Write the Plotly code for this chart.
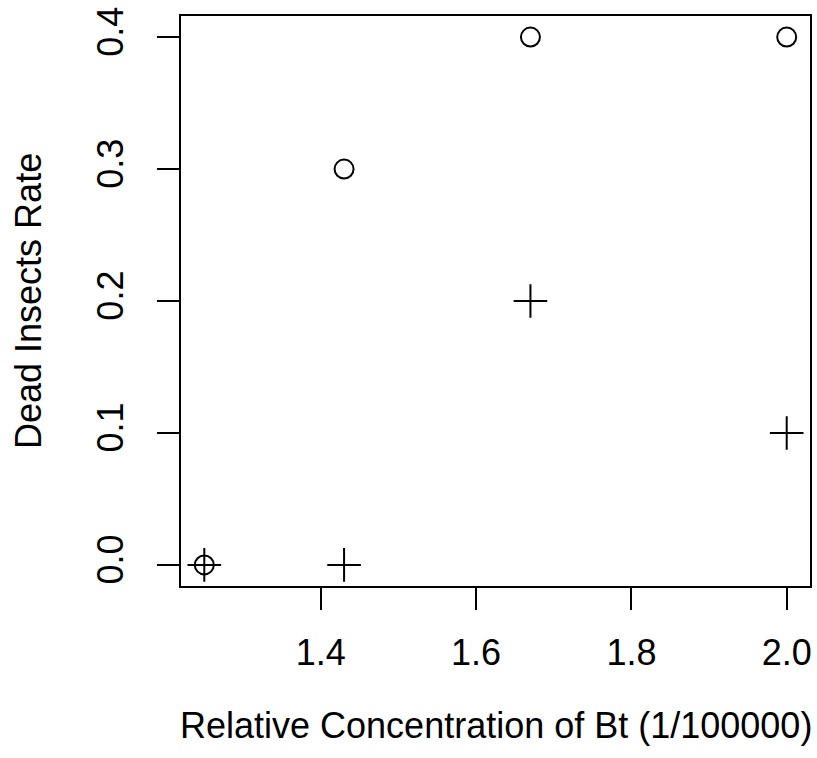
import plotly.graph_objects as go

concentration = [1.25, 1.43, 1.67, 2.0]
rate_circle = [0.0, 0.3, 0.4, 0.4]
rate_cross = [0.0, 0.0, 0.2, 0.1]
x_ticks = [1.4, 1.6, 1.8, 2.0]
y_ticks = [0.0, 0.1, 0.2, 0.3, 0.4]

FONT = "Liberation Sans, Arial, sans-serif"

fig = go.Figure()
fig.add_trace(go.Scatter(x=concentration, y=rate_circle, mode="markers",
                         marker=dict(symbol="circle-open", size=19, color="black",
                                     line=dict(width=2, color="black")),
                         showlegend=False, hoverinfo="skip"))
fig.add_trace(go.Scatter(x=concentration, y=rate_cross, mode="markers",
                         marker=dict(symbol="cross-thin-open", size=24, color="black",
                                     line=dict(width=2, color="black")),
                         showlegend=False, hoverinfo="skip"))

fig.update_layout(
    width=817, height=758,
    margin=dict(l=181, r=5, t=16, b=172),
    plot_bgcolor="white", paper_bgcolor="white",
    font=dict(family=FONT, size=36, color="black"),
    xaxis=dict(range=[1.22, 2.03], tickvals=x_ticks, ticktext=[f"{v:.1f}" for v in x_ticks],
               showgrid=False, zeroline=False, showline=True, linecolor="black", linewidth=2,
               mirror=True, ticks="outside", ticklen=22, tickwidth=2, tickcolor="black",
               ticklabelstandoff=12, tickfont=dict(size=36)),
    yaxis=dict(range=[-0.016, 0.416], tickvals=y_ticks, ticktext=[f"{v:.1f}" for v in y_ticks],
               showgrid=False, zeroline=False, showline=True, linecolor="black", linewidth=2,
               mirror=True, ticks="outside", ticklen=22, tickwidth=2, tickcolor="black",
               tickangle=-90, ticklabelstandoff=20, tickfont=dict(size=36)),
    annotations=[
        dict(text="Relative Concentration of Bt (1/100000)", xref="paper", yref="paper",
             x=0.5, y=0, xanchor="center", yanchor="middle", yshift=-139,
             showarrow=False, font=dict(size=36)),
        dict(text="Dead Insects Rate", xref="paper", yref="paper",
             x=0, y=0.5, xanchor="center", yanchor="middle", xshift=-153, textangle=-90,
             showarrow=False, font=dict(size=36)),
    ],
)

fig.write_html("out.html", config={"displayModeBar": False, "staticPlot": True},
               post_script="document.body.style.margin='0';document.body.style.padding='0';")
